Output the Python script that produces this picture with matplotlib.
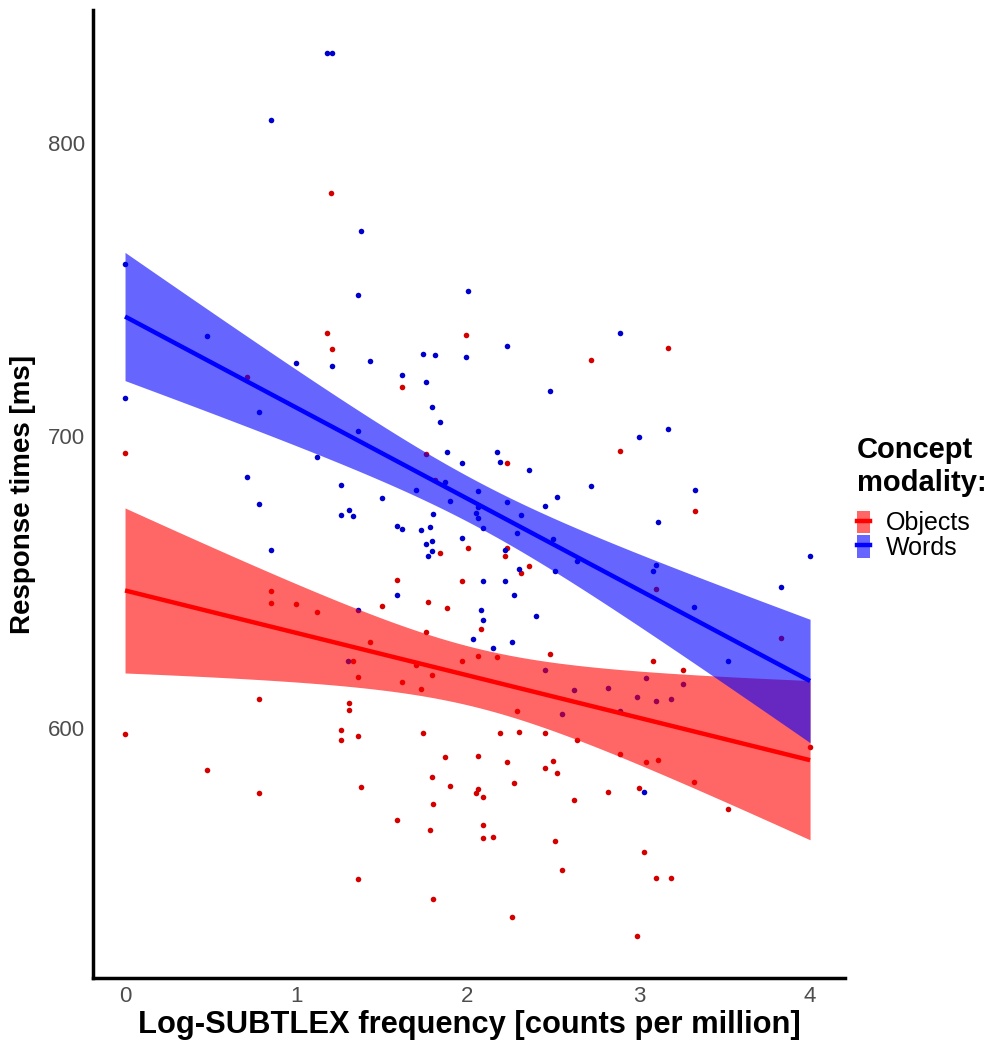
"""Response times vs. log word frequency, by concept modality."""

import numpy as np
from matplotlib import pyplot as plt
from matplotlib.lines import Line2D
from matplotlib.patches import Patch

plt.rcParams["font.family"] = ["Liberation Sans", "DejaVu Sans"]

# Words (blue) -- log-SUBTLEX frequency and response time [ms]
words_freq = [
    1.18, 1.21, 0.85, 1.38, 0.00, 1.36, 2.00, 0.48, 1.00, 1.21,
    1.43, 0.00, 0.78, 1.36, 1.12, 0.71, 1.26, 1.50, 0.78, 1.26,
    1.31, 1.33, 0.85, 1.36, 1.74, 1.81, 2.23, 1.99, 2.89, 1.62,
    1.76, 2.48, 1.79, 1.84, 1.88, 2.17, 2.19, 1.97, 2.36, 2.72,
    1.87, 1.70, 2.06, 2.52, 1.90, 2.23, 2.45, 2.06, 1.80, 2.05,
    2.06, 2.31, 1.59, 1.62, 1.73, 1.78, 2.09, 2.29, 2.50, 1.97,
    1.76, 1.79, 1.79, 1.77, 2.22, 2.64, 2.30, 2.51, 2.09, 2.22,
    1.59, 2.27, 2.08, 2.09, 2.40, 2.03, 2.26, 2.15, 1.30, 2.45,
    2.62, 2.82, 2.55, 2.89, 3.00, 3.17, 3.33, 3.11, 4.00, 3.10,
    3.08, 3.83, 3.32, 3.52, 3.04, 3.26, 2.99, 3.10, 3.19, 3.03,
]
words_rt = [
    831.0, 831.0, 808.0, 770.0, 758.6, 748.0, 749.4, 734.0, 725.0, 723.8,
    725.5, 713.0, 708.0, 701.5, 692.6, 685.8, 683.0, 678.6, 676.6, 672.8,
    674.5, 672.5, 661.0, 640.3, 728.0, 727.5, 730.6, 726.8, 735.0, 720.7,
    718.3, 715.2, 709.7, 704.6, 694.4, 694.4, 691.0, 690.6, 688.2, 682.7,
    684.0, 681.4, 681.0, 679.0, 677.6, 677.3, 676.0, 675.6, 673.2, 673.5,
    672.0, 672.8, 669.0, 668.0, 667.7, 668.7, 668.4, 666.7, 664.6, 665.0,
    663.0, 664.0, 660.5, 658.8, 661.0, 657.0, 654.4, 653.7, 650.3, 650.3,
    645.5, 645.5, 640.3, 637.0, 638.3, 630.4, 629.4, 627.4, 623.0, 620.0,
    613.0, 613.7, 604.8, 605.8, 699.5, 702.2, 681.4, 670.4, 658.8, 655.7,
    653.7, 648.2, 641.4, 623.0, 617.0, 615.0, 610.6, 609.2, 609.9, 578.0,
]

# Objects (red)
objects_freq = [
    1.20, 1.18, 1.21, 0.71, 0.00, 0.85, 0.85, 1.00, 1.12, 1.50,
    1.43, 1.33, 1.36, 0.78, 1.31, 1.31, 1.26, 1.26, 1.36, 0.00,
    0.48, 1.38, 0.78, 1.36, 1.99, 2.72, 1.62, 2.89, 1.76, 2.23,
    1.81, 1.84, 2.00, 2.23, 2.22, 2.36, 2.31, 1.59, 1.97, 1.77,
    1.88, 2.08, 1.76, 2.48, 1.97, 2.06, 2.17, 1.70, 1.79, 1.62,
    1.73, 2.29, 1.74, 2.19, 2.30, 2.45, 2.64, 2.89, 1.87, 2.06,
    2.23, 2.45, 2.50, 2.52, 1.79, 1.90, 2.27, 2.05, 2.06, 2.09,
    2.62, 2.82, 1.80, 1.59, 1.78, 2.09, 2.09, 2.15, 2.51, 2.55,
    1.80, 2.26, 3.17, 3.33, 3.10, 3.83, 3.08, 3.26, 4.00, 3.04,
    3.11, 3.32, 3.00, 3.52, 3.03, 3.10, 3.19, 2.99,
]
objects_rt = [
    783.0, 735.0, 729.6, 720.0, 694.0, 647.0, 642.7, 642.4, 639.7, 641.7,
    629.4, 623.0, 617.4, 610.0, 608.5, 606.0, 599.3, 596.0, 597.2, 598.0,
    585.6, 580.0, 577.8, 548.4, 734.4, 725.8, 716.6, 694.7, 693.7, 690.6,
    685.0, 659.8, 661.5, 661.5, 658.8, 655.4, 653.0, 650.6, 650.3, 643.0,
    641.0, 634.0, 633.0, 625.3, 623.0, 624.6, 624.3, 621.5, 618.0, 615.7,
    613.3, 605.8, 598.3, 598.3, 598.6, 598.3, 596.0, 591.0, 590.0, 590.4,
    588.4, 586.3, 588.7, 584.6, 583.2, 580.2, 581.2, 577.8, 579.0, 576.4,
    575.4, 578.0, 574.0, 568.5, 565.1, 566.8, 562.4, 562.7, 561.4, 551.5,
    541.5, 535.4, 730.0, 674.2, 647.5, 630.8, 623.0, 619.8, 593.5, 588.4,
    589.0, 581.5, 579.5, 572.3, 557.6, 548.7, 548.7, 528.9,
]

x_ticks = [0, 1, 2, 3, 4]
y_ticks = [600, 700, 800]


def lm_band(x, y, grid, t_crit=1.985):
    """OLS fit with a 95% confidence band, like geom_smooth(method='lm')."""
    x, y = np.asarray(x), np.asarray(y)
    slope, icept = np.polyfit(x, y, 1)
    resid = y - (icept + slope * x)
    s = np.sqrt(np.sum(resid**2) / (len(x) - 2))
    se = s * np.sqrt(1 / len(x) + (grid - x.mean()) ** 2 / np.sum((x - x.mean()) ** 2))
    fit = icept + slope * grid
    return fit, fit - t_crit * se, fit + t_crit * se


groups = [
    ("Objects", objects_freq, objects_rt, "#D40000", "#FF0000"),
    ("Words", words_freq, words_rt, "#0000CC", "#0000FF"),
]

fig = plt.figure(figsize=(10, 10.44), dpi=100)
ax = fig.add_axes([0.093, 0.0632, 0.752, 0.927])

# points underneath, ribbons on top (as ggplot draws them)
for _, fx, fy, pcol, _ in groups:
    ax.scatter(fx, fy, s=16, color=pcol, linewidths=0, zorder=1)

handles = []
for name, fx, fy, _, lcol in groups:
    grid = np.linspace(min(fx), max(fx), 200)
    fit, lo, hi = lm_band(fx, fy, grid)
    ax.fill_between(grid, lo, hi, color=lcol, alpha=0.6, linewidth=0, zorder=2)
    ax.plot(grid, fit, color=lcol, lw=3.2, zorder=3, solid_capstyle="butt")
    handles.append((Patch(facecolor=lcol, alpha=0.6, edgecolor="none"),
                    Line2D([], [], color=lcol, lw=3.2)))

ax.set_xlim(-0.187, 4.204)
ax.set_ylim(514.5, 845.5)
ax.set_xticks(x_ticks)
ax.set_yticks(y_ticks)
ax.tick_params(length=0, labelsize=16, labelcolor="#4D4D4D", pad=6)
for side in ("top", "right"):
    ax.spines[side].set_visible(False)
for side in ("left", "bottom"):
    ax.spines[side].set_linewidth(2.5)
ax.set_xlabel("Log-SUBTLEX frequency [counts per million]", fontsize=22.2,
              fontweight="bold", labelpad=2)
ax.set_ylabel("Response times [ms]", fontsize=20, fontweight="bold", labelpad=8)

leg = fig.legend(handles, [g[0] for g in groups], title="Concept\nmodality:",
                 loc="upper left", bbox_to_anchor=(0.857, 0.582), frameon=False,
                 fontsize=18, title_fontproperties={"weight": "bold", "size": 21},
                 handlelength=0.5, handleheight=1.0, labelspacing=0.0,
                 handletextpad=0.65, borderpad=0, borderaxespad=0,
                 alignment="left")
# gap between the title and the keys (labelspacing is 0 for the keys)
leg._legend_box.sep = 10

fig.savefig("out.png", dpi=100)
